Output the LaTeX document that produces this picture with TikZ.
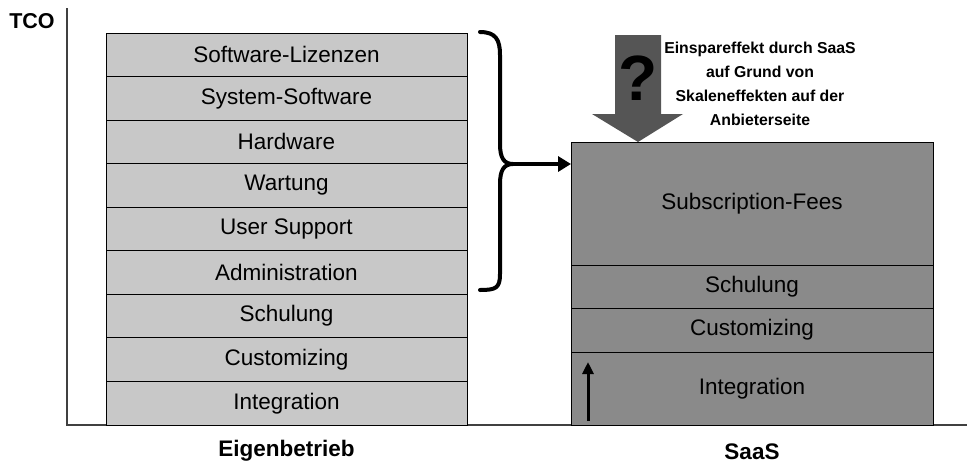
\documentclass[tikz,border=0pt]{standalone}
\usepackage{fontspec}
\setmainfont{Liberation Sans}
\usetikzlibrary{arrows.meta,positioning}
\definecolor{Pale}{HTML}{C8C8C8}
\definecolor{Mid}{HTML}{8A8A8A}
\definecolor{Deep}{HTML}{555555}

\tikzset{
  costbox/.style={draw,line width=1pt,inner sep=0pt,outer sep=0pt,
    minimum width=361pt,font=\fontsize{22.5}{26}\selectfont},
  palebox/.style={costbox,fill=Pale,minimum height=43.56pt},
  midbox/.style={costbox,fill=Mid,minimum width=362pt},
  caption/.style={font=\fontsize{22.5}{26}\selectfont\bfseries},
}

\begin{document}
\begin{tikzpicture}[x=1pt,y=-1pt,>=Stealth]
\useasboundingbox (0,0) rectangle (967,466);
% axes
\coordinate (top) at (67,8);
\coordinate (origin) at (67,425);
\coordinate (right) at (967,425);
\draw[line width=1.2pt,black!75] (top) -- (origin) -- (right);
\node[caption,font=\fontsize{21.5}{26}\selectfont\bfseries] (tco) at (32,21) {TCO};

% own operation: nine cost blocks
\foreach \i/\txt in {1/Software-Lizenzen,2/System-Software,3/Hardware,
  4/Wartung,5/User Support,6/Administration,7/Schulung,8/Customizing,9/Integration}{
 \node[palebox] (own\i) at (286.5,{33+43.56*(\i-0.5)}) {\txt};
}
\node[caption] (owncap) at (286.5,451) {Eigenbetrieb};

% saas blocks
\node[midbox,minimum height=123pt] (fees) at (752,203.5) {Subscription-Fees};
\node[midbox,minimum height=43pt,below=0pt of fees] (train) {Schulung};
\node[midbox,minimum height=44pt,below=0pt of train] (custom) {Customizing};
\node[midbox,minimum height=73pt,below=0pt of custom] (integ) {Integration};
\node[caption] (saascap) at (752,452) {SaaS};

% brace over the first six blocks
\coordinate (tip) at (513,164);
\draw[line width=4pt,line cap=round] (480,32) .. controls (496,32) and (500,40) .. (500,55)
 -- (500,144) .. controls (500,158) and (504,164) .. (tip)
 .. controls (504,164) and (500,170) .. (500,184)
 -- (500,274) .. controls (500,288) and (496,290) .. (480,290);
\draw[line width=4pt,-{Triangle[length=13pt,width=15pt]}] (tip) -- (tip -| fees.west);

% saving effect
\fill[Deep] (615,35) -- (661,35) -- (661,114) -- (683,114) -- (638,142)
 -- (592,114) -- (615,114) -- cycle;
\node[font=\fontsize{64}{64}\selectfont\bfseries] (quest) at (638,78) {?};
\node[align=center,font=\fontsize{15.8}{24}\selectfont\bfseries] (effect) at (760,84)
 {Einspareffekt durch SaaS\\auf Grund von\\Skaleneffekten auf der\\Anbieterseite};

% small arrow in the integration block
\coordinate (lift) at (588,421);
\draw[line width=3pt,-{Triangle[length=12pt,width=11pt]}] (lift) -- ++(0,-59);
\end{tikzpicture}
\end{document}
